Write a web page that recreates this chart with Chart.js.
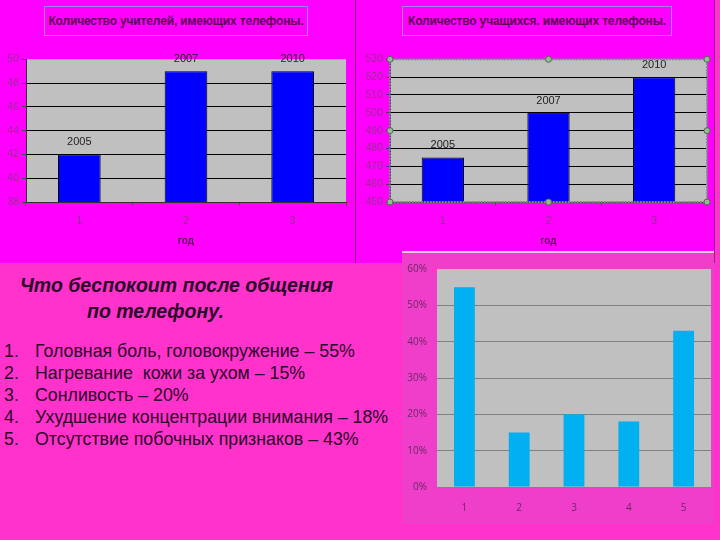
<!DOCTYPE html>
<html>
<head>
<meta charset="utf-8">
<script src="https://cdn.jsdelivr.net/npm/chart.js@4.4.1/dist/chart.umd.min.js"></script>
<style>
  html, body { margin: 0; padding: 0; }
  body { width: 720px; height: 540px; background: #ff33cc; position: relative; overflow: hidden;
         font-family: Arial, 'Liberation Sans', sans-serif; }
  .top { position: absolute; left: 0; top: 0; width: 714px; height: 263px; background: #ff00ff; }
  .vline { position: absolute; left: 355px; top: 0; width: 1px; height: 263px; background: #7a1070; }
  .rline { position: absolute; left: 714px; top: 0; width: 1px; height: 263px; background: #9a2090; }
  .box { position: absolute; }
  .ctitle { position: absolute; top: 6px; height: 28px; border: 1px solid #a080f0;
            font: bold 12px Arial, 'Liberation Sans', sans-serif; line-height: 28px; color: #5a0050;
            text-align: center; white-space: nowrap; letter-spacing: -0.15px; }
  .frame3 { position: absolute; left: 402px; top: 251px; width: 312px; height: 271px;
            background: #ef3ec9; border-top: 2px solid #f4c4f0; }
  .head { position: absolute; left: 20px; top: 272px; font: italic bold 19.5px Arial, 'Liberation Sans', sans-serif;
          color: #2a0828; line-height: 26px; white-space: nowrap; }
  .head span { display: block; }
  ol { position: absolute; left: 0; top: 340px; margin: 0; padding: 0; list-style: none;
       font: 17.8px Arial, 'Liberation Sans', sans-serif; color: #2a0828; }
  ol li { height: 22px; line-height: 22px; white-space: pre; }
  ol li b { font-weight: normal; display: inline-block; width: 35px; padding-left: 4px; box-sizing: border-box; }
</style>
</head>
<body>
<div class="top"></div>
<div class="vline"></div>
<div class="rline"></div>

<div class="ctitle" style="left:44px;width:262px;">Количество учителей, имеющих телефоны.</div>
<div class="box" style="left:0;top:50px;width:352px;height:200px;"><canvas id="teachers"></canvas></div>

<div class="ctitle" style="left:402px;width:268px;">Количество учащихся. имеющих телефоны.</div>
<div class="box" style="left:356px;top:50px;width:357px;height:200px;"><canvas id="students"></canvas></div>

<div class="frame3"></div>
<div class="box" style="left:402px;top:253px;width:312px;height:267px;"><canvas id="symptoms"></canvas></div>

<div class="head"><span>Что беспокоит после общения</span><span style="padding-left:67px;">по телефону.</span></div>
<ol id="list"></ol>

<script>
// ---- data ----
const gradeCats = ['1', '2', '3'];
const yearLabels = ['2005', '2007', '2010'];
const teacherCounts = [42, 49, 49];
const studentCounts = [475, 500, 520];

const symptomCats = ['1', '2', '3', '4', '5'];
const symptomShares = [55, 15, 20, 18, 43];
const symptomNames = [
  'Головная боль, головокружение',
  'Нагревание  кожи за ухом',
  'Сонливость',
  'Ухудшение концентрации внимания',
  'Отсутствие побочных признаков',
];

// list under the heading
const list = document.getElementById('list');
symptomNames.forEach((name, i) => {
  const li = document.createElement('li');
  li.innerHTML = `<b>${i + 1}.</b>${name} – ${symptomShares[i]}%`;
  list.appendChild(li);
});

Chart.defaults.animation = false;
Chart.defaults.devicePixelRatio = 1;
Chart.defaults.font.family = "Arial, 'Liberation Sans', sans-serif";

const tickPink = '#962e92';

// gray plot area behind the grid
const plotBg = {
  id: 'plotBg',
  beforeDraw(chart, args, opts) {
    const { ctx, chartArea: a } = chart;
    ctx.save();
    ctx.fillStyle = opts.color || '#c0c0c0';
    ctx.fillRect(a.left, a.top, a.right - a.left, a.bottom - a.top);
    ctx.restore();
  },
};

// year text above each bar
const yearTags = {
  id: 'yearTags',
  afterDatasetsDraw(chart, args, opts) {
    if (!opts.labels) return;
    const { ctx } = chart;
    ctx.save();
    ctx.font = '11px Arial, sans-serif';
    ctx.fillStyle = '#222';
    ctx.textAlign = 'center';
    ctx.textBaseline = 'middle';
    chart.getDatasetMeta(0).data.forEach((bar, i) => {
      ctx.fillText(opts.labels[i], bar.x, bar.y - 12);
    });
    ctx.restore();
  },
};

// dotted selection frame with handles (right chart is selected in the slide)
const selection = {
  id: 'selection',
  afterDraw(chart, args, opts) {
    if (!opts.show) return;
    const { ctx, chartArea: a } = chart;
    ctx.save();
    ctx.strokeStyle = '#7a8a8a';
    ctx.setLineDash([2, 1]);
    ctx.lineWidth = 2;
    ctx.strokeRect(a.left, a.top, a.right - a.left, a.bottom - a.top);
    ctx.setLineDash([]);
    const mx = (a.left + a.right) / 2, my = (a.top + a.bottom) / 2;
    [[a.left, a.top], [mx, a.top], [a.right, a.top], [a.left, my], [a.right, my],
     [a.left, a.bottom], [mx, a.bottom], [a.right, a.bottom]].forEach(([x, y]) => {
      ctx.beginPath();
      ctx.arc(x, y, 3, 0, Math.PI * 2);
      ctx.fillStyle = '#9ab89a';
      ctx.fill();
      ctx.lineWidth = 1;
      ctx.strokeStyle = '#506a50';
      ctx.stroke();
    });
    ctx.restore();
  },
};

function yearChart(id, values, min, max, step, yWidth, selected) {
  return new Chart(document.getElementById(id), {
    type: 'bar',
    data: {
      labels: gradeCats,
      datasets: [{
        data: values,
        backgroundColor: '#0000ff',
        borderColor: '#000',
        borderWidth: 1,
        categoryPercentage: 1,
        barPercentage: 0.4,
      }],
    },
    options: {
      responsive: true,
      maintainAspectRatio: false,
      layout: { padding: { top: 9, right: 6, bottom: 0, left: 0 } },
      plugins: {
        legend: { display: false },
        tooltip: { enabled: false },
        plotBg: { color: '#c0c0c0' },
        yearTags: { labels: yearLabels },
        selection: { show: selected },
      },
      scales: {
        y: {
          min, max,
          ticks: { stepSize: step, color: tickPink, font: { size: 10.5 }, padding: 3 },
          grid: {
            color: (c) => (c.tick && c.tick.value === max ? 'rgba(0,0,0,0)' : '#000'),
            tickColor: '#444',
            tickLength: 4,
            lineWidth: 1,
          },
          border: { display: true, color: '#333' },
          afterFit: (s) => { s.width = yWidth; },
        },
        x: {
          ticks: { color: tickPink, font: { size: 11 }, padding: 8 },
          grid: { offset: true, drawOnChartArea: false, tickLength: 4, tickColor: '#555' },
          border: { display: true, color: '#333' },
          title: {
            display: true, text: 'год', color: '#5a1050',
            font: { size: 10, weight: 'bold' },
            padding: { top: 4, bottom: 3 },
          },
          afterFit: (s) => { s.height = 48; },
        },
      },
    },
    plugins: [plotBg, yearTags, selection],
  });
}

yearChart('teachers', teacherCounts, 38, 50, 2, 26, false);
yearChart('students', studentCounts, 450, 530, 10, 34, true);

new Chart(document.getElementById('symptoms'), {
  type: 'bar',
  data: {
    labels: symptomCats,
    datasets: [{
      data: symptomShares,
      backgroundColor: '#00b0f0',
      borderWidth: 0,
      categoryPercentage: 1,
      barPercentage: 0.38,
    }],
  },
  options: {
    responsive: true,
    maintainAspectRatio: false,
    layout: { padding: { top: 14, right: 3, bottom: 0, left: 0 } },
    plugins: {
      legend: { display: false },
      tooltip: { enabled: false },
      plotBg: { color: '#c0c0c0' },
    },
    scales: {
      y: {
        min: 0, max: 60,
        ticks: {
          stepSize: 10, color: '#6a2a66', padding: 10,
          font: { size: 10, family: "'Open Sans', Arial, sans-serif" },
          callback: (v) => v + '%',
        },
        grid: {
          color: (c) => (c.tick && c.tick.value === 60 ? 'rgba(0,0,0,0)' : '#808080'),
          drawTicks: false,
        },
        border: { display: false },
        afterFit: (s) => { s.width = 35; },
      },
      x: {
        ticks: { color: '#6a2a66', padding: 15, font: { size: 10, family: "'Open Sans', Arial, sans-serif" } },
        grid: { display: false, drawTicks: false },
        border: { display: true, color: '#808080' },
        afterFit: (s) => { s.height = 33; },
      },
    },
  },
  plugins: [plotBg],
});
</script>
</body>
</html>
